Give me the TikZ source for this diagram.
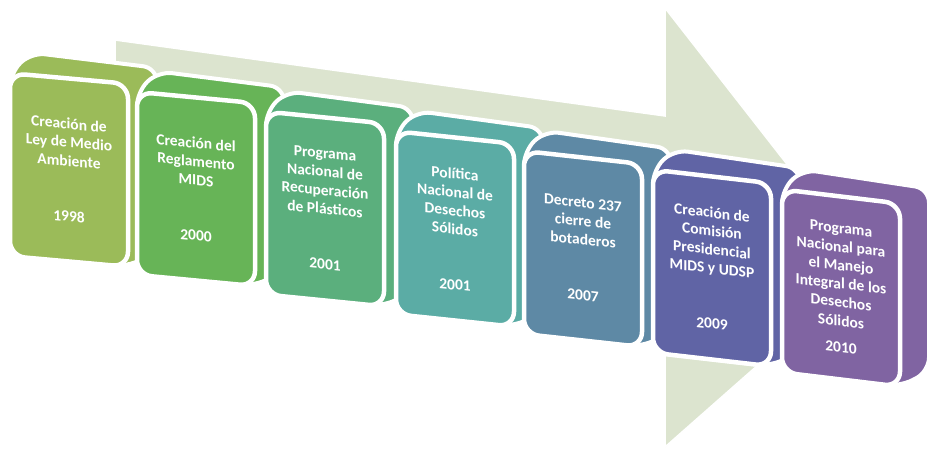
\documentclass[tikz,border=0pt]{standalone}
\usepackage{fontspec}
\setmainfont{Carlito}
\definecolor{arrowc}{HTML}{DCE4CF}
\definecolor{c1}{HTML}{9BBB59}
\definecolor{c2}{HTML}{67B457}
\definecolor{c3}{HTML}{5BAF7D}
\definecolor{c4}{HTML}{5BACA5}
\definecolor{c5}{HTML}{5E89A5}
\definecolor{c6}{HTML}{6064A5}
\definecolor{c7}{HTML}{8064A2}
\tikzset{
  bighull/.style={draw=white, line width=4pt, line join=round, rounded corners=14pt},
  boxfront/.style={draw=white, line width=4.5pt, rounded corners=15pt},
  boxtext/.style={text=white, font=\bfseries\fontsize{15.5}{18.5}\selectfont, align=center, transform shape, inner sep=0pt},
  bgarrow/.style={fill=arrowc, draw=white, line width=1.5pt, line join=miter}
}
\newcommand{\tlbox}[6]{%
  \begin{scope}[shift={(#2,-#3)}, yslant=-#6]
    \path[bighull, fill=#4] (-59,-91.5) -- (-59,91.5) -- (-38,114) -- (88,110) -- (88,-73) -- (59,-91.5) -- cycle;
    \path[boxfront, fill=#4] (-59,-91.5) rectangle (59,91.5);
    \node[boxtext] (t#1) at (0,0) {#5};
  \end{scope}}
\begin{document}
\begin{tikzpicture}[x=1pt, y=1pt]
  \useasboundingbox (0,0) rectangle (927,-450);
  \path[bgarrow] (115,-40) -- (665,-116) -- (665,-8) -- (868,-268) -- (665,-447) -- (665,-347) -- (115,-257) -- cycle;
  \tlbox{1}{69}{170}{c1}{Creación de\\Ley de Medio\\Ambiente\\[37pt]1998}{0.09}
  \tlbox{2}{196}{189}{c2}{Creación del\\Reglamento\\MIDS\\[37pt]2000}{0.095}
  \tlbox{3}{325}{209}{c3}{Programa\\Nacional de\\Recuperación\\de Plásticos\\[37pt]2001}{0.1}
  \tlbox{4}{455}{229}{c4}{Política\\Nacional de\\Desechos\\Sólidos\\[37pt]2001}{0.105}
  \tlbox{5}{583}{249}{c5}{Decreto 237\\cierre de\\botaderos\\[37pt]2007}{0.11}
  \tlbox{6}{712}{268}{c6}{Creación de\\Comisión\\Presidencial\\MIDS y UDSP\\[37pt]2009}{0.115}
  \tlbox{7}{841}{288}{c7}{Programa\\Nacional para\\el Manejo\\Integral de los\\Desechos\\Sólidos\\[8pt]2010}{0.12}
\end{tikzpicture}
\end{document}
